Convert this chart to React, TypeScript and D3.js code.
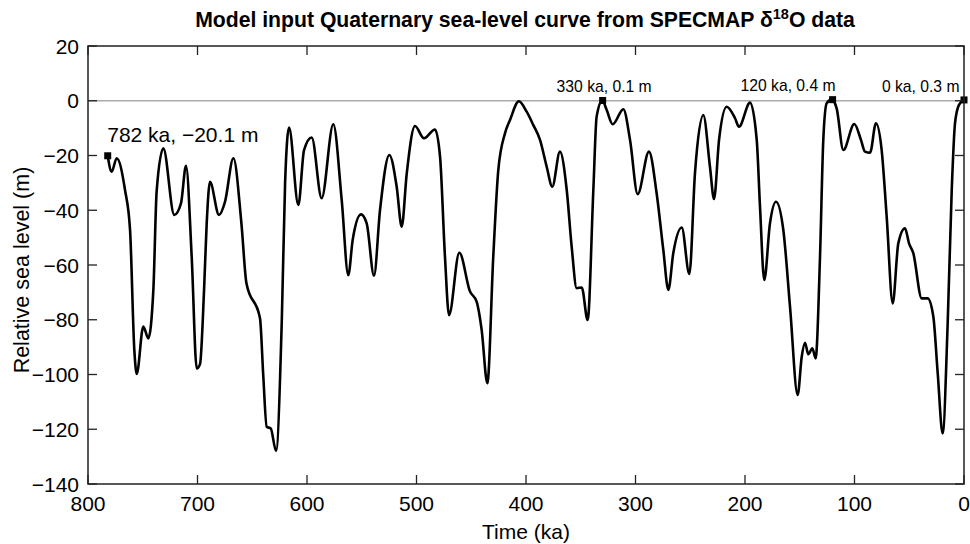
import React from "react";
import * as d3 from "d3";

const timeKa: number[] = [
  782, 778.4, 773.8, 766.2, 761.6, 757.7, 755.5, 749.5, 744.9, 740.3, 737.3,
  731.2, 721.2, 715.1, 710.5, 705.3, 700.7, 697.7, 694, 691.6, 688.6, 680.4,
  674.9, 667.2, 659.9, 655.3, 642.9, 640, 636.8, 633.1, 628.3, 623, 620,
  616.4, 607.9, 602.7, 595.7, 586.6, 576, 568.3, 562.3, 558.3, 550.7, 545.5,
  538.8, 533.3, 524.8, 518.1, 513.5, 508.9, 501.4, 493.2, 483.1, 478.5, 474,
  470.3, 460.9, 451.1, 445.1, 440.5, 435.3, 429.9, 425.3, 419.2, 414.6,
  406.5, 399.4, 393.3, 387.2, 381.1, 376, 369, 362.8, 358.3, 353.7, 349.1,
  343.7, 338.5, 335.5, 330.3, 326.3, 320.8, 311.1, 305, 298, 287.7, 280.7,
  274.6, 270, 265.5, 257.8, 250.8, 245.7, 238.1, 232, 228.3, 223.7, 216.7,
  209.1, 205.5, 195.4, 189.3, 186.3, 182.4, 177.2, 171.7, 165, 158.9, 151.9,
  148.2, 145.2, 142.2, 138.5, 135.5, 131.5, 128.5, 125.4, 120.8, 116.3,
  110.2, 100.2, 94.1, 90.4, 85.8, 80.4, 75.2, 70.6, 65.1, 60, 53.9, 50.2,
  46.3, 38.6, 33.2, 28, 24, 19.5, 14.9, 11.2, 8.2, 4.6, 0,
];

const seaLevel: number[] = [
  -20.1, -25.9, -21.0, -32.6, -47.2, -91, -99.8, -82.5, -86.8, -69, -33,
  -17.4, -41.7, -37.5, -23.8, -57, -97.8, -96.2, -69, -44.8, -29.6, -41.7,
  -36.9, -21.0, -44.8, -66.7, -79.5, -100, -119.1, -119.7, -127.9, -80, -30,
  -9.8, -38.1, -18, -13.4, -35.6, -8.6, -36.3, -63.7, -50.9, -41.5, -44.8,
  -63.9, -39.9, -19.8, -31.4, -46.0, -26.5, -9.2, -13.7, -10.5, -20.4, -57,
  -78.3, -55.5, -69.7, -73.4, -83.7, -103.2, -57, -25.3, -11.9, -7.0,
  -0.2, -4.0, -8.9, -14.3, -24.1, -31.4, -18.6, -32.6, -53.3, -68.5, -68.2,
  -80.1, -32.6, -5.8, 0.1, -3.4, -8.6, -3.1, -14.3, -34.1, -18.6, -33.8,
  -54.5, -69.1, -55.7, -46.3, -63.3, -26.5, -5.2, -24.1, -35.9, -14.3, -2.2,
  -6.4, -9.5, -0.7, -14.3, -38.7, -65.5, -44.8, -36.9, -47.2, -75.2, -107.5,
  -93.5, -88.4, -92.6, -90.4, -94.1, -57, -14.3, -0.9, 0.4, -2.8,
  -18.0, -8.5, -14.3, -18.6, -19.0, -8.2, -18.0, -42.4, -74.0, -52.1, -46.6, -52.1,
  -55.7, -72.2, -72.2, -78.9, -99.6, -121.5, -81.3, -32.6, -8.2, -1.5, 0.3,
];

const markerKa: number[] = [782, 330, 120, 0];
const markerM: number[] = [-20.1, 0.1, 0.4, 0.3];
const markerLabels: string[] = ["782 ka, \u221220.1 m", "330 ka, 0.1 m", "120 ka, 0.4 m", "0 ka, 0.3 m"];

const xTicks: number[] = [800, 700, 600, 500, 400, 300, 200, 100, 0];
const yTicks: number[] = [20, 0, -20, -40, -60, -80, -100, -120, -140];

const FONT = "'Liberation Sans', Arial, Helvetica, sans-serif";

export default function App() {
  const W = 970;
  const H = 544;
  const left = 88;
  const right = 964;
  const top = 46;
  const bottom = 484;

  const x = d3.scaleLinear().domain([800, 0]).range([left, right]);
  const y = d3.scaleLinear().domain([-140, 20]).range([bottom, top]);

  const pts: [number, number][] = timeKa.map((t, i) => [x(t), y(seaLevel[i])]);
  const line = d3
    .line<[number, number]>()
    .x((d) => d[0])
    .y((d) => d[1])
    .curve(d3.curveMonotoneX);
  const path = line(pts) || "";

  const tickLen = 9;
  const axisColor = "#222";
  const fmt = (v: number) => (v < 0 ? "\u2212" + Math.abs(v) : String(v));

  const ms = 7;
  const tickFont = 21;

  return (
    <svg
      width={W}
      height={H}
      style={{ position: "absolute", left: 0, top: 0, background: "#fff" }}
      fontFamily={FONT}
    >
      <rect x={0} y={0} width={W} height={H} fill="#fff" />
      {/* title */}
      <text x={525} y={26.5} textAnchor="middle" fontSize={21.2} fontWeight="bold" fill="#000">
        Model input Quaternary sea-level curve from SPECMAP {"\u03B4"}
        <tspan dy={-8} fontSize={14.5}>18</tspan>
        <tspan dy={8}>O data</tspan>
      </text>

      {/* zero line */}
      <line x1={left} x2={right} y1={y(0)} y2={y(0)} stroke="#aaa" strokeWidth={1.3} />

      {/* curve */}
      <path d={path} fill="none" stroke="#000" strokeWidth={2.6} strokeLinejoin="round" />

      {/* markers */}
      {markerKa.map((t, i) => (
        <rect key={"m" + i} x={x(t) - ms / 2} y={y(markerM[i]) - ms / 2} width={ms} height={ms} fill="#000" />
      ))}
      <text x={x(782) - 0.5} y={141.7} fontSize={21} fill="#000">{markerLabels[0]}</text>
      <text x={x(330) + 1.5} y={91.7} fontSize={15.7} textAnchor="middle" fill="#000">{markerLabels[1]}</text>
      <text x={x(120) + 3} y={90.7} fontSize={15.7} textAnchor="end" fill="#000">{markerLabels[2]}</text>
      <text x={x(0) - 4.5} y={91.7} fontSize={15.7} textAnchor="end" fill="#000">{markerLabels[3]}</text>

      {/* axes box */}
      <rect x={left} y={top} width={right - left} height={bottom - top} fill="none" stroke={axisColor} strokeWidth={1.5} />

      {/* x ticks */}
      {xTicks.map((t) => (
        <g key={"x" + t}>
          <line x1={x(t)} x2={x(t)} y1={bottom} y2={bottom - tickLen} stroke={axisColor} strokeWidth={1.3} />
          <line x1={x(t)} x2={x(t)} y1={top} y2={top + tickLen} stroke={axisColor} strokeWidth={1.3} />
          <text x={x(t)} y={510.5} textAnchor="middle" fontSize={tickFont} fill="#000">{fmt(t)}</text>
        </g>
      ))}
      {/* y ticks */}
      {yTicks.map((v) => (
        <g key={"y" + v}>
          <line x1={left} x2={left + tickLen} y1={y(v)} y2={y(v)} stroke={axisColor} strokeWidth={1.3} />
          <line x1={right} x2={right - tickLen} y1={y(v)} y2={y(v)} stroke={axisColor} strokeWidth={1.3} />
          <text x={79} y={y(v) + 7.5} textAnchor="end" fontSize={tickFont} fill="#000">{fmt(v)}</text>
        </g>
      ))}

      {/* axis titles */}
      <text x={526} y={538.5} textAnchor="middle" fontSize={21} fill="#000">Time (ka)</text>
      <text
        transform={`translate(28.5, 270) rotate(-90)`}
        textAnchor="middle"
        fontSize={21.5}
        fill="#000"
      >
        Relative sea level (m)
      </text>
    </svg>
  );
}
